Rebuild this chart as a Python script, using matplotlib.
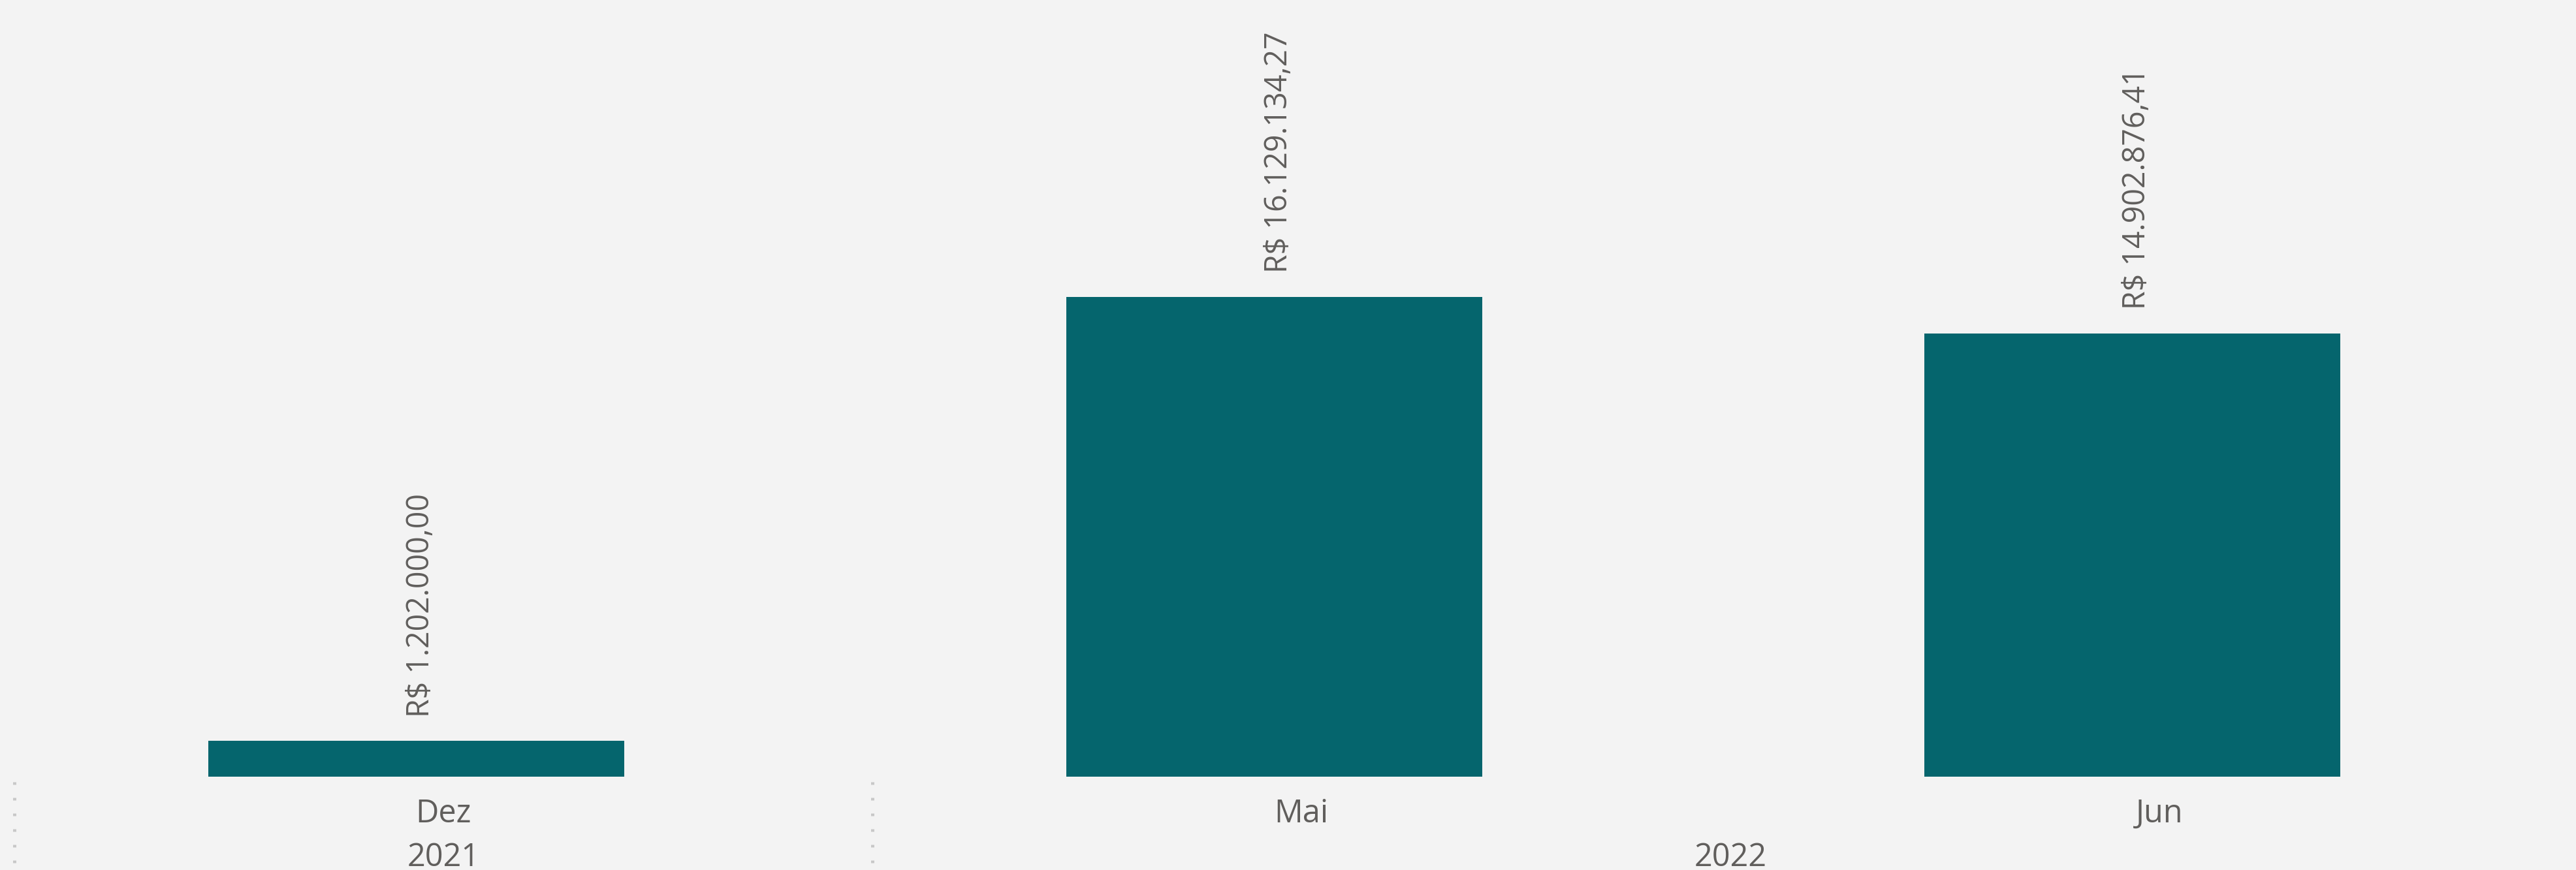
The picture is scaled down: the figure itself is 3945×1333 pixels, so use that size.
import matplotlib
matplotlib.use("Agg")
import matplotlib.pyplot as plt
import matplotlib.transforms as mtransforms

# ---- data ----
months = ["Dez", "Mai", "Jun"]
years = ["2021", "2022"]
year_spans = [[0], [1, 2]]          # category indices belonging to each year
values = [1202000.00, 16129134.27, 14902876.41]

# ---- style ----
BG = "#f3f3f3"
BAR = "#05656d"
TXT = "#605e5c"
SEP = "#c8c8c8"
plt.rcParams['font.family'] = ['Open Sans', 'DejaVu Sans']

W, H, DPI = 3945, 1333, 100
fig = plt.figure(figsize=(W / DPI, H / DPI), dpi=DPI, facecolor=BG)

base_px = 1190  # baseline from top
ax = fig.add_axes([0, (H - base_px) / H, 1, base_px / H])
ax.set_facecolor(BG)

band_px = 1314.0
first_center_px = 679.0
ax.set_xlim(-first_center_px / band_px, (W - first_center_px) / band_px)
ax.set_ylim(0, 26.1e6)

bar_offset = -42 / band_px
bar_width = 637 / band_px
xs = list(range(len(months)))
ax.bar([x + bar_offset for x in xs], values, width=bar_width, color=BAR)


def fmt_brl(v):
    s = f"{v:,.2f}".replace(",", "X").replace(".", ",").replace("X", ".")
    return "R$ " + s


for x, v in zip(xs, values):
    ax.annotate(fmt_brl(v), (x + bar_offset, v), xytext=(5, 26),
                textcoords="offset points", rotation=90, ha="center",
                va="bottom", fontsize=33.5, color=TXT)

for s in ax.spines.values():
    s.set_visible(False)
ax.set_xticks([])
ax.set_yticks([])

trans = mtransforms.blended_transform_factory(ax.transData, fig.transFigure)
for x, m in zip(xs, months):
    ax.text(x, (H - 1260) / H, m, transform=trans, ha="center",
            va="baseline", fontsize=35, color=TXT, clip_on=False)

for yr, span in zip(years, year_spans):
    cx = (span[0] + span[-1]) / 2
    ax.text(cx, (H - 1327) / H, yr, transform=trans, ha="center",
            va="baseline", fontsize=35, color=TXT, clip_on=False)

# dotted separators at year boundaries
for span in year_spans:
    sx = span[0] - 0.5
    ax.plot([sx, sx], [(H - 1198) / H, 0], transform=trans, color=SEP,
            lw=3.6, linestyle=(0, (0.8, 4.0)), clip_on=False,
            solid_capstyle="butt", dash_capstyle="butt")

fig.savefig("out.png", dpi=DPI, facecolor=BG)
